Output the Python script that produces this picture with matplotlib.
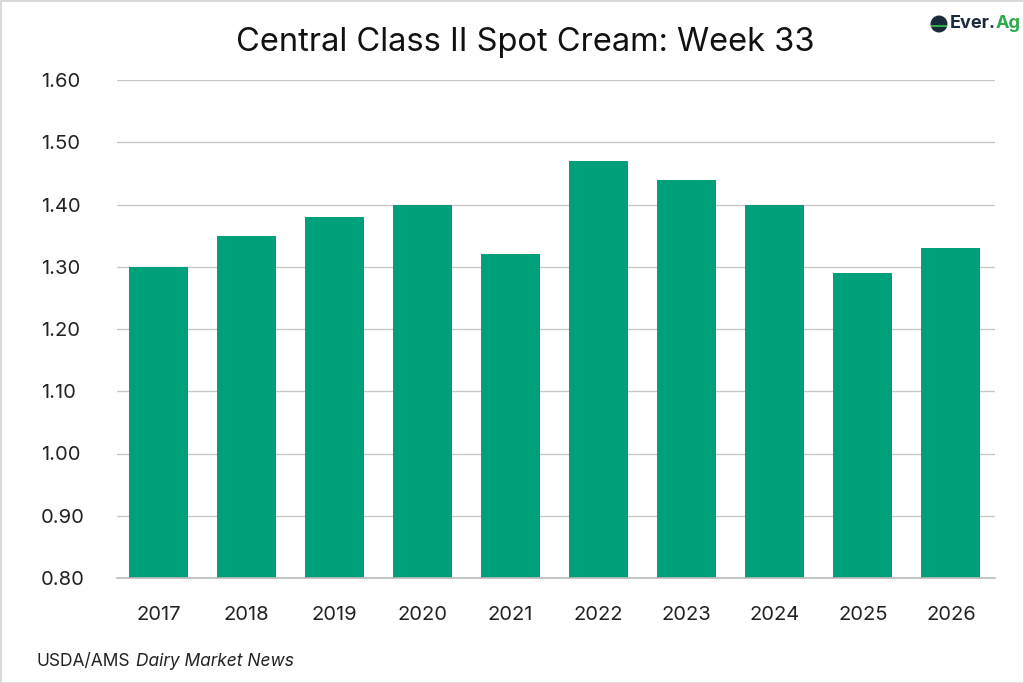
import numpy as np
import matplotlib
matplotlib.use('Agg')
import matplotlib.pyplot as plt
import matplotlib.patches as mpatches

plt.rcParams['font.family'] = ['Inter', 'DejaVu Sans']

# ── data ─────────────────────────────────────────────────────────────────────
years = ['2017', '2018', '2019', '2020', '2021', '2022', '2023', '2024', '2025', '2026']
prices = [1.30, 1.35, 1.38, 1.40, 1.32, 1.47, 1.44, 1.40, 1.29, 1.33]
yticks = [0.80, 0.90, 1.00, 1.10, 1.20, 1.30, 1.40, 1.50, 1.60]

bar_color = '#00A07A'
grid_color = '#C8C8C8'
text_color = '#222222'

W, H = 1024, 683

# ── figure ───────────────────────────────────────────────────────────────────
fig = plt.figure(figsize=(W / 100, H / 100), dpi=100, facecolor='white')
ax = fig.add_axes([117 / W, 1 - 578 / H, (995 - 117) / W, (578 - 80) / H])

x = np.arange(len(years))
ax.bar(x, prices, width=0.67, color=bar_color, zorder=3)

ax.set_ylim(0.80, 1.60)
ax.set_xlim(-0.47, len(years) - 0.5)
ax.set_yticks(yticks)
ax.set_yticklabels([f'{v:.2f}' for v in yticks], fontsize=14.5, color=text_color)
ax.set_xticks(x)
ax.set_xticklabels(years, fontsize=14.5, color=text_color)
ax.tick_params(axis='both', length=0)
ax.tick_params(axis='y', pad=55)
ax.tick_params(axis='x', pad=20)
for lbl in ax.get_yticklabels():
    lbl.set_horizontalalignment('left')

ax.grid(axis='y', color=grid_color, linewidth=1, zorder=0)
for s in ['top', 'right', 'left']:
    ax.spines[s].set_visible(False)
ax.spines['bottom'].set_color('#BBBBBB')
ax.spines['bottom'].set_linewidth(1.2)
ax.spines['bottom'].set_zorder(4)

fig.text(0.513, 1 - 42 / H, 'Central Class II Spot Cream: Week 33',
         ha='center', va='center', fontsize=23.5, color='#111111')

# source line
renderer = fig.canvas.get_renderer()
src1 = fig.text(37 / W, 1 - 661 / H, 'USDA/AMS', ha='left', va='center',
                fontsize=12.5, color=text_color)
bb = src1.get_window_extent(renderer)
fig.text((bb.x1 + 5) / W, 1 - 661 / H, 'Dairy Market News', ha='left', va='center',
         fontsize=12.5, color=text_color, style='italic')

# logo
logo_y = 1 - 24 / H
fig.patches.append(mpatches.Ellipse((939 / W, logo_y), 17 / W, 17 / H,
                                    transform=fig.transFigure,
                                    facecolor='#1B2A3A', edgecolor='none'))
fig.patches.append(mpatches.Rectangle((931 / W, 1 - 27 / H), 16 / W, 2 / H,
                                      transform=fig.transFigure,
                                      facecolor='#2DAA4A', edgecolor='none'))
logo1 = fig.text(950 / W, logo_y, 'Ever.', ha='left', va='center', fontsize=13,
                 fontweight='bold', color='#1B2A3A')
lb = logo1.get_window_extent(renderer)
fig.text(lb.x1 / W, logo_y, 'Ag', ha='left', va='center', fontsize=13,
         fontweight='bold', color='#2DAA4A')

# thin border
fig.patches.append(mpatches.Rectangle((0, 0), 1, 1, transform=fig.transFigure,
                                      fill=False, edgecolor='#D8D8D8', linewidth=2))

fig.savefig('out.png', dpi=100, facecolor='white')
